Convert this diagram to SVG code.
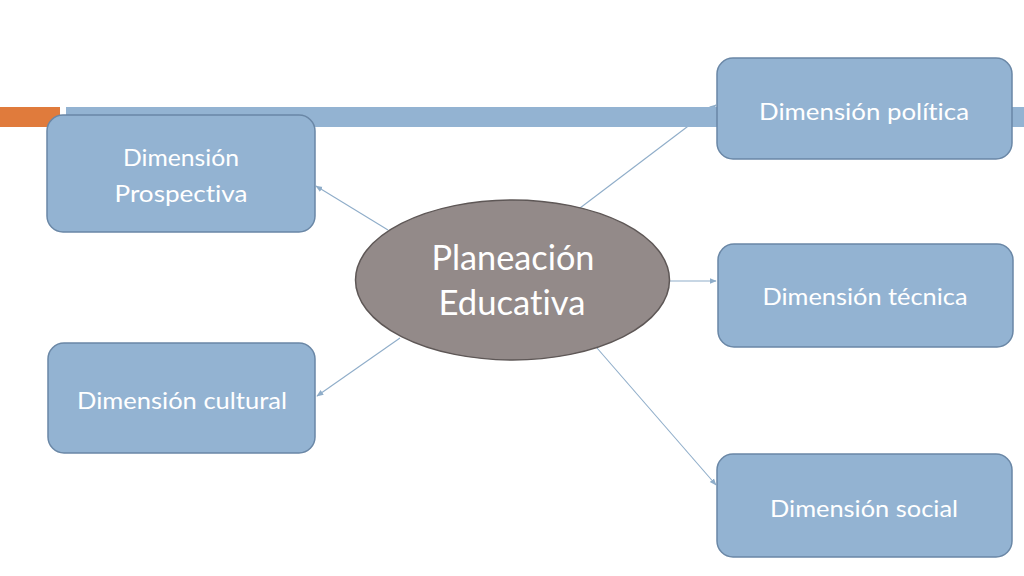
<svg xmlns="http://www.w3.org/2000/svg" width="1024" height="576" viewBox="0 0 1024 576">
<style>
.box{fill:#93b3d2;stroke:#6a87a6;stroke-width:1.5}
.lbl{font-family:Lato,"Open Sans","Liberation Sans",sans-serif;fill:#ffffff;font-size:23px;font-variant-ligatures:none;font-feature-settings:"liga" 0}
.big{font-size:34px}
.con{stroke:#8fadc9;stroke-width:1.1;fill:none;marker-end:url(#ah)}
</style>
<defs>
<marker id="ah" viewBox="0 0 10 10" refX="9" refY="5" markerWidth="7" markerHeight="7" markerUnits="userSpaceOnUse" orient="auto">
<path d="M0,1 L10,5 L0,9 Z" fill="#8fadc9"/>
</marker>
</defs>
<rect width="1024" height="576" fill="#ffffff"/>
<g id="connectors">
<line class="con" x1="388" y1="230" x2="316" y2="186"/>
<line class="con" x1="580" y1="208" x2="716" y2="105"/>
<line class="con" x1="670" y1="281" x2="716" y2="281"/>
<line class="con" x1="400" y1="338" x2="317" y2="396"/>
<line class="con" x1="597" y1="348" x2="716" y2="485"/>
</g>
<g id="decor">
<rect x="0" y="107" width="60" height="20" fill="#e07b3c"/>
<rect x="66" y="107" width="958" height="20" fill="#93b3d2"/>
</g>
<g id="prospectiva">
<rect class="box" x="47" y="115" width="268" height="117" rx="16"/>
<text class="lbl" x="181" y="166" text-anchor="middle" textLength="116" lengthAdjust="spacingAndGlyphs">Dimensión</text>
<text class="lbl" x="181" y="202" text-anchor="middle" textLength="133" lengthAdjust="spacingAndGlyphs">Prospectiva</text>
</g>
<g id="cultural">
<rect class="box" x="48" y="343" width="267" height="110" rx="16"/>
<text class="lbl" x="182" y="409" text-anchor="middle" textLength="210" lengthAdjust="spacingAndGlyphs">Dimensión cultural</text>
</g>
<g id="politica">
<rect class="box" x="717" y="58" width="295" height="101" rx="16"/>
<text class="lbl" x="864" y="120" text-anchor="middle" textLength="210" lengthAdjust="spacingAndGlyphs">Dimensión política</text>
</g>
<g id="tecnica">
<rect class="box" x="718" y="244" width="295" height="103" rx="16"/>
<text class="lbl" x="865" y="305" text-anchor="middle" textLength="205" lengthAdjust="spacingAndGlyphs">Dimensión técnica</text>
</g>
<g id="social">
<rect class="box" x="717" y="454" width="295" height="103" rx="16"/>
<text class="lbl" x="864" y="517" text-anchor="middle" textLength="188" lengthAdjust="spacingAndGlyphs">Dimensión social</text>
</g>
<g id="planeacion">
<ellipse cx="512.5" cy="280" rx="157" ry="80" fill="#938a89" stroke="#5e5756" stroke-width="1.5"/>
<text class="lbl big" x="513" y="270" text-anchor="middle" textLength="163" lengthAdjust="spacingAndGlyphs">Planeación</text>
<text class="lbl big" x="512" y="315" text-anchor="middle" textLength="147" lengthAdjust="spacingAndGlyphs">Educativa</text>
</g>
</svg>
